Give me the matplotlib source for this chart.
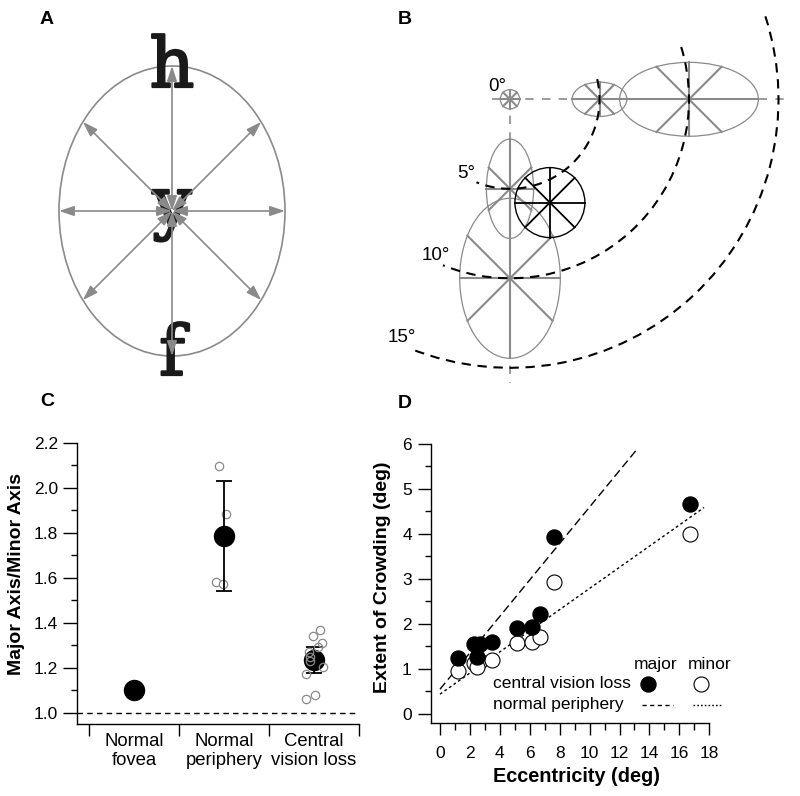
import numpy as np
import matplotlib
matplotlib.use('Agg')
import matplotlib.pyplot as plt
import matplotlib.patches as patches
import matplotlib.patheffects as pe

plt.rcParams['font.family'] = ['Liberation Sans', 'DejaVu Sans']

# ---------------- data ----------------
# panel A : letter "y" flanked by "h" and "f", elliptical crowding zone (pixels)
a_center = (172, 211)
a_semi = (113, 145)          # horizontal, vertical semi axes
a_dirs = [0, 45, 90, 135, 180, 225, 270, 315]
a_letters = ['h', 'y', 'f']
a_baselines = [87, 226, 375]

# panel B : visual field map in degrees (fovea at 0,0, y downward)
arc_ecc = [5, 10, 15]
arc_span = [(-13, 112), (-17, 112), (-18, 112)]
arc_labels = ['0°', '5°', '10°', '15°']
arc_label_pos = [(-0.71, -0.74), (-2.42, 4.14), (-4.15, 8.7), (-6.05, 13.33)]
# ellipse centre x, centre y, width, height
zone_x = [0, 5, 10, 0, 0]
zone_y = [0, 0, 0, 5, 10]
zone_w = [1.08, 3.06, 7.75, 2.64, 5.62]
zone_h = [1.08, 1.92, 4.13, 5.55, 8.94]
cvl_zone = (2.23, 5.77, 3.91)   # x, y, diameter

# panel C
categories = ['Normal\nfovea', 'Normal\nperiphery', 'Central\nvision loss']
group_mean = [1.10, 1.785, 1.234]
group_err = [0.0, 0.245, 0.056]
periph_offset = [-0.05, 0.02, -0.09, -0.01]
periph_ratio = [2.095, 1.883, 1.582, 1.573]
cvl_offset = [0.067, -0.008, 0.092, 0.048, -0.052, -0.044, -0.04, 0.103, -0.089, 0.011, -0.089]
cvl_ratio = [1.368, 1.341, 1.308, 1.29, 1.27, 1.249, 1.23, 1.204, 1.172, 1.079, 1.061]

# panel D
ecc = [1.18, 2.27, 2.67, 2.45, 3.46, 5.13, 6.15, 6.68, 7.64, 16.73]
crowd_major = [1.25, 1.556, 1.556, 1.27, 1.59, 1.90, 1.93, 2.22, 3.94, 4.67]
crowd_minor = [0.955, 1.14, 1.18, 1.04, 1.20, 1.57, 1.61, 1.70, 2.94, 4.00]
fit_major = (0.55, 0.405, 13.1)   # intercept, slope, max ecc
fit_minor = (0.44, 0.235, 17.65)

W, H = 800, 796
fig = plt.figure(figsize=(8, 7.96), dpi=100)
grey = '#8a8a8a'

# ---------------- panel A ----------------
axA = fig.add_axes([0, 406 / H, 380 / W, 390 / H])
axA.set_xlim(0, 380)
axA.set_ylim(390, 0)
axA.axis('off')
axA.add_patch(patches.Ellipse(a_center, 2 * a_semi[0], 2 * a_semi[1],
                              fill=False, edgecolor=grey, lw=1.2))
for ch, yb in zip(a_letters, a_baselines):
    axA.text(a_center[0], yb, ch, fontsize=50, family='DejaVu Serif',
             ha='center', va='baseline', color='#1a1a1a', zorder=2,
             path_effects=[pe.withStroke(linewidth=1.6, foreground='#1a1a1a')])
for d in a_dirs:
    th = np.radians(d)
    r = 1 / np.sqrt((np.cos(th) / a_semi[0]) ** 2 + (np.sin(th) / a_semi[1]) ** 2)
    end = (a_center[0] + r * np.cos(th), a_center[1] - r * np.sin(th))
    axA.annotate('', xy=end, xytext=a_center, zorder=3,
                 arrowprops=dict(arrowstyle='<|-|>,head_length=0.9,head_width=0.3',
                                 color=grey, lw=1.2, shrinkA=0, shrinkB=0,
                                 mutation_scale=10))

# ---------------- panel B ----------------
px_deg = 17.9
axB = fig.add_axes([380 / W, 406 / H, 420 / W, 390 / H])
axB.set_xlim(-130 / px_deg, 290 / px_deg)
axB.set_ylim(290.7 / px_deg, -99.3 / px_deg)
axB.axis('off')

axB.plot([-1.02, 15.74], [0, 0], color=grey, lw=1.2, ls=(0, (5, 5)), zorder=1)
axB.plot([0, 0], [0, 15.85], color=grey, lw=1.2, ls=(0, (5, 5)), zorder=1)


def spokes(ax, cx, cy, w, h, color, lw):
    a, b = w / 2, h / 2
    t = 1 / np.sqrt(1 / a ** 2 + 1 / b ** 2)
    ax.plot([cx - a, cx + a], [cy, cy], color=color, lw=lw, zorder=2)
    ax.plot([cx, cx], [cy - b, cy + b], color=color, lw=lw, zorder=2)
    ax.plot([cx - t, cx + t], [cy - t, cy + t], color=color, lw=lw, zorder=2)
    ax.plot([cx - t, cx + t], [cy + t, cy - t], color=color, lw=lw, zorder=2)


for cx, cy, w, h in zip(zone_x, zone_y, zone_w, zone_h):
    axB.add_patch(patches.Ellipse((cx, cy), w, h, fill=False,
                                  edgecolor=grey, lw=0.9, zorder=2))
    spokes(axB, cx, cy, w, h, grey, 1.5)

cx, cy, dia = cvl_zone
axB.add_patch(patches.Ellipse((cx, cy), dia, dia, fill=False,
                              edgecolor='black', lw=1.0, zorder=3))
spokes(axB, cx, cy, dia, dia, 'black', 1.3)

for r, (t1, t2) in zip(arc_ecc, arc_span):
    axB.add_patch(patches.Arc((0, 0), 2 * r, 2 * r, theta1=t1, theta2=t2,
                              color='black', lw=1.5, ls=(0, (4.5, 3.2)), zorder=4))
for lab, (lx, ly) in zip(arc_labels, arc_label_pos):
    axB.text(lx, ly, lab, fontsize=13.5, ha='center', va='center')

# ---------------- panel C ----------------
axC = fig.add_axes([77 / W, (H - 724) / H, 282 / W, (724 - 442.7) / H])
axC.set_xlim(-0.633, 2.5)
axC.set_ylim(0.95, 2.2)
for s in ['top', 'right']:
    axC.spines[s].set_visible(False)
axC.axhline(1.0, color='black', lw=1, ls=(0, (4, 3)))

axC.plot(1 + np.array(periph_offset), periph_ratio, 'o', ms=6, mfc='white',
         mec=grey, mew=0.9, zorder=2)
axC.plot(2 + np.array(cvl_offset), cvl_ratio, 'o', ms=6, mfc='none',
         mec=grey, mew=0.9, zorder=4)
axC.errorbar(range(3), group_mean, yerr=group_err, fmt='o', ms=14.4,
             color='black', ecolor='black', elinewidth=1.3, capsize=5.5,
             capthick=1.3, zorder=3)

axC.set_xticks([-0.5, 0.5, 1.5, 2.5])
axC.set_xticklabels([])
axC.set_xticks([0, 1, 2], minor=True)
axC.set_xticklabels(categories, minor=True, fontsize=13.3)
axC.tick_params(axis='x', which='major', length=8.6, width=1)
axC.tick_params(axis='x', which='minor', length=0, pad=6.3)
axC.set_yticks(np.arange(1.0, 2.21, 0.2))
axC.set_yticklabels([f'{v:.1f}' for v in np.arange(1.0, 2.21, 0.2)])
axC.set_yticks(np.arange(1.1, 2.2, 0.2), minor=True)
axC.tick_params(axis='y', which='major', length=10, width=1, labelsize=12.5, pad=3.6)
axC.tick_params(axis='y', which='minor', length=4, width=1)

# ---------------- panel D ----------------
axD = fig.add_axes([430.7 / W, (H - 723.3) / H, (709.3 - 430.7) / W, (723.3 - 444) / H])
axD.set_xlim(-0.62, 18)
axD.set_ylim(-0.207, 6)
for s in ['top', 'right']:
    axD.spines[s].set_visible(False)

xm = np.array([0, fit_major[2]])
axD.plot(xm, fit_major[0] + fit_major[1] * xm, color='black', lw=1, ls=(0, (6, 3)))
xn = np.array([0, fit_minor[2]])
axD.plot(xn, fit_minor[0] + fit_minor[1] * xn, color='black', lw=1, ls=(0, (2, 2)))
axD.plot(ecc, crowd_minor, 'o', ms=10.8, mfc='white', mec='black', mew=0.8)
axD.plot(ecc, crowd_major, 'o', ms=10.8, color='black')

axD.set_xticks(range(0, 19, 2))
axD.set_xticks(range(1, 18, 2), minor=True)
axD.set_yticks(range(0, 7))
axD.set_yticks(np.arange(0.5, 6, 1), minor=True)
axD.tick_params(axis='x', which='major', length=8.4, width=1, labelsize=12.5, pad=8)
axD.tick_params(axis='x', which='minor', length=4.8, width=1)
axD.tick_params(axis='y', which='major', length=9.6, width=1, labelsize=12.5, pad=4)
axD.tick_params(axis='y', which='minor', length=4, width=1)

# legend drawn by hand
axD.text(14.44, 1.09, 'major', fontsize=12.5, ha='center', va='center')
axD.text(18.0, 1.09, 'minor', fontsize=12.5, ha='center', va='center')
axD.text(3.56, 0.667, 'central vision loss', fontsize=12.5, ha='left', va='center')
axD.text(3.56, 0.2, 'normal periphery', fontsize=12.5, ha='left', va='center')
axD.plot([13.93], [0.667], 'o', ms=10.8, color='black', clip_on=False)
axD.plot([17.45], [0.667], 'o', ms=10.8, mfc='white', mec='black', mew=0.8, clip_on=False)
axD.plot([13.48, 15.6], [0.2, 0.2], color='black', lw=1, ls=(0, (3, 2.5)), clip_on=False)
axD.plot([16.9, 18.83], [0.2, 0.2], color='black', lw=1, ls=(0, (1.2, 1.5)), clip_on=False)

for spine_ax in (axC, axD):
    for s in ['left', 'bottom']:
        spine_ax.spines[s].set_linewidth(1)

# ---------------- labels ----------------
fig.text(16.3 / W, 1 - 574 / H, 'Major Axis/Minor Axis', rotation=90, fontsize=14,
         weight='bold', ha='center', va='center')
fig.text(382.5 / W, 1 - 577 / H, 'Extent of Crowding (deg)', rotation=90, fontsize=14,
         weight='bold', ha='center', va='center')
fig.text(576.7 / W, 1 - 777 / H, 'Eccentricity (deg)', fontsize=14.3,
         weight='bold', ha='center', va='center')
for lab, (lx, ly) in zip('ABCD', [(47, 20), (405, 20), (47, 402), (405, 403)]):
    fig.text(lx / W, 1 - ly / H, lab, fontsize=14, weight='bold', ha='center', va='center')

fig.savefig('out.png', dpi=100)
